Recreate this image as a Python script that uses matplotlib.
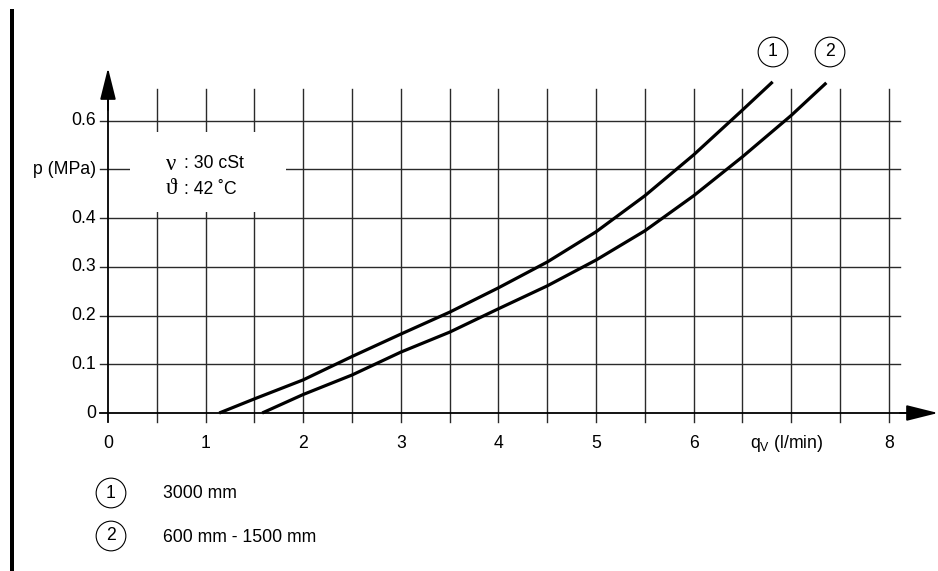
import matplotlib
matplotlib.use('Agg')
import matplotlib.pyplot as plt
from matplotlib.patches import Rectangle

plt.rcParams['font.family'] = ['Liberation Sans', 'DejaVu Sans']
plt.rcParams['mathtext.default'] = 'regular'

# ---- data ----
x_ticks = [0, 1, 2, 3, 4, 5, 6, 8]
x_tick_labels = ['0', '1', '2', '3', '4', '5', '6', '8']
y_ticks = [0, 0.1, 0.2, 0.3, 0.4, 0.6]
y_tick_labels = ['0', '0.1', '0.2', '0.3', '0.4', '0.6']
grid_x = [0.5, 1.0, 1.5, 2.0, 2.5, 3.0, 3.5, 4.0, 4.5, 5.0, 5.5, 6.0, 6.5, 7.0, 7.5, 8.0]
grid_y = [0.1, 0.2, 0.3, 0.4, 0.6]
grid_y_broken = 0.5

curve1_q = [1.14, 1.5, 2.0, 2.5, 3.0, 3.5, 4.0, 4.5, 5.0, 5.5, 6.0, 6.5, 6.81]
curve1_p = [0.0, 0.029, 0.068, 0.116, 0.162, 0.207, 0.257, 0.31, 0.372, 0.446, 0.53, 0.622, 0.68]
curve2_q = [1.58, 2.0, 2.5, 3.0, 3.5, 4.0, 4.5, 5.0, 5.5, 6.0, 6.5, 7.0, 7.36]
curve2_p = [0.0, 0.038, 0.078, 0.125, 0.166, 0.214, 0.261, 0.314, 0.374, 0.446, 0.526, 0.611, 0.678]

legend_ids = ['1', '2']
legend_texts = ['3000 mm', '600 mm - 1500 mm']

# ---- layout (pixel -> data mapping) ----
W, H = 938, 571
X0, SX = 108.0, 97.6      # pixel of q=0, pixels per l/min
Y0, SY = 413.0, 487.0     # pixel of p=0, pixels per MPa

def px(x):
    return (x - X0) / SX

def py(y):
    return (Y0 - y) / SY

fig = plt.figure(figsize=(W / 100, H / 100), dpi=100)
ax = fig.add_axes([0, 0, 1, 1])
ax.set_xlim(px(0), px(W))
ax.set_ylim(py(H), py(0))
ax.axis('off')

# left thick bar
fig.add_artist(Rectangle((10 / W, 0), 4 / W, (H - 9) / H, transform=fig.transFigure,
                         facecolor='black', edgecolor='none'))

gc = '#2a2a2a'
glw = 1.0
gtop = py(89)
gbot = py(422)
gleft = px(100)
gright = px(900)

# vertical grid lines
for gx in grid_x:
    ax.plot([gx, gx], [gbot, gtop], color=gc, lw=glw, zorder=1)
# horizontal grid lines
for gy in grid_y + [grid_y_broken]:
    ax.plot([gleft, gright], [gy, gy], color=gc, lw=glw, zorder=1)

# white box behind the condition text
ax.add_patch(Rectangle((px(130), py(212)), px(286) - px(130), py(132) - py(212),
                       facecolor='white', edgecolor='none', zorder=2))

# axes with arrows
ax.plot([gleft, px(920)], [0, 0], color='black', lw=1.3, zorder=3)
ax.annotate('', xy=(px(938), 0), xytext=(px(900), 0),
            arrowprops=dict(arrowstyle='-|>,head_length=1.4,head_width=0.35',
                            mutation_scale=14, color='black', lw=1.3, shrinkA=0, shrinkB=0),
            zorder=3)
ax.plot([0, 0], [gbot, py(90)], color='black', lw=1.3, zorder=3)
ax.annotate('', xy=(0, py(68)), xytext=(0, py(110)),
            arrowprops=dict(arrowstyle='-|>,head_length=1.4,head_width=0.35',
                            mutation_scale=14, color='black', lw=1.3, shrinkA=0, shrinkB=0),
            zorder=3)

# curves
ax.plot(curve1_q, curve1_p, color='black', lw=2.3, zorder=4, solid_capstyle='butt')
ax.plot(curve2_q, curve2_p, color='black', lw=2.3, zorder=4, solid_capstyle='butt')

fs = 12.7
# tick labels
for t, lab in zip(x_ticks, x_tick_labels):
    ax.text(t, py(444), lab, ha='center', va='center', fontsize=fs)
ax.text(px(787), py(443), 'q$_{V}$ (l/min)', ha='center', va='center', fontsize=fs)
for t, lab in zip(y_ticks, y_tick_labels):
    ax.text(px(96), t, lab, ha='right', va='center', fontsize=fs)
ax.text(px(96), grid_y_broken, 'p (MPa)', ha='right', va='center', fontsize=fs)

# condition text
serif = ['Liberation Serif', 'DejaVu Serif']
ax.text(px(166), py(164), 'ν', ha='left', va='center', fontsize=16.5, family=serif, zorder=5)
ax.text(px(184), py(164), ': 30 cSt', ha='left', va='center', fontsize=fs, zorder=5)
ax.text(px(166), py(189), 'ϑ', ha='left', va='center', fontsize=16.5, family=serif, zorder=5)
ax.text(px(184), py(189), ': 42 ˚C', ha='left', va='center', fontsize=fs, zorder=5)

circ = dict(boxstyle='circle,pad=0.36', facecolor='white', edgecolor='black', lw=0.8)
# curve labels
ax.text(px(773), py(52), legend_ids[0], ha='center', va='center', fontsize=fs, bbox=circ, zorder=5)
ax.text(px(830), py(52), legend_ids[1], ha='center', va='center', fontsize=fs, bbox=circ, zorder=5)

# legend
for i, (lid, txt) in enumerate(zip(legend_ids, legend_texts)):
    yy = [493, 536][i]
    ax.text(px(111), py(yy), lid, ha='center', va='center', fontsize=fs, bbox=circ, zorder=5)
    ax.text(px(163), py(yy + 1), txt, ha='left', va='center', fontsize=fs, zorder=5)

fig.savefig('out.png', dpi=100)
